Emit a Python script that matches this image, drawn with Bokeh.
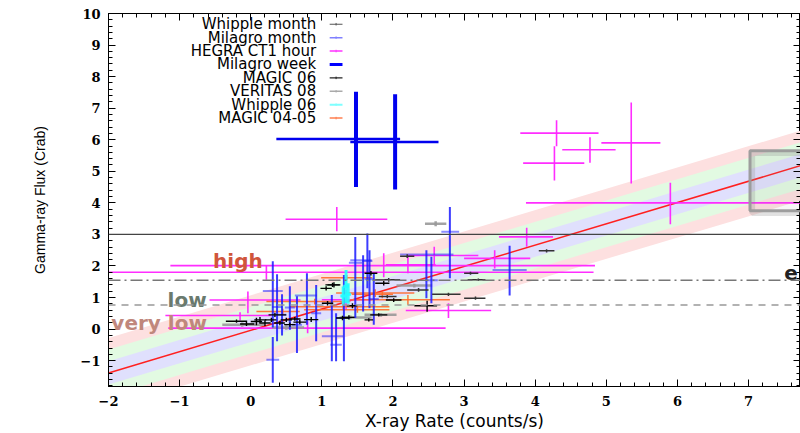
from bokeh.plotting import figure
from bokeh.models import Range1d, LinearAxis, SingleIntervalTicker, Span, CustomJSTickFormatter
from bokeh.embed import file_html
from bokeh.resources import INLINE
from bokeh.core.properties import value

# ---------------- data ----------------
# each series: x, x_lo, x_hi, y, y_lo, y_hi
whipple_month_x = [2.20, 3.09, 4.16, 2.78, 3.16, 3.20, 1.94, 2.36, 1.92]
whipple_month_xlo = [2.10, 3.00, 4.05, 2.55, 3.00, 3.05, 1.75, 2.20, 1.80]
whipple_month_xhi = [2.30, 3.20, 4.27, 2.95, 3.30, 3.30, 2.10, 2.50, 2.05]
whipple_month_y = [2.31, 1.77, 2.48, 1.10, 0.98, 1.56, 1.56, 1.24, 1.03]
whipple_month_ylo = [2.25, 1.72, 2.43, 1.05, 0.93, 1.52, 1.50, 1.18, 0.98]
whipple_month_yhi = [2.37, 1.82, 2.53, 1.15, 1.03, 1.60, 1.62, 1.30, 1.08]

milagro_month_x = [0.31, 0.31, 0.37, 0.55, 0.65, 0.79, 0.92, 1.14, 1.31, 1.47, 1.58, 1.64, 1.67, 1.73, 2.47, 2.54, 2.80, 3.64, 1.20, 0.44]
milagro_month_xlo = [0.17, 0.22, 0.30, 0.48, 0.58, 0.62, 0.85, 1.00, 1.20, 1.38, 1.40, 1.57, 1.60, 1.66, 2.10, 2.45, 2.68, 3.40, 1.12, 0.38]
milagro_month_xhi = [0.45, 0.40, 0.44, 0.62, 0.72, 0.93, 0.99, 1.30, 1.40, 1.57, 1.70, 1.71, 1.74, 1.80, 2.85, 2.63, 2.93, 3.88, 1.28, 0.50]
milagro_month_y = [1.21, -0.97, 0.70, 0.68, 0.14, 1.06, 0.50, -0.23, 0.35, 2.10, 2.18, 2.16, 1.58, 0.95, 2.36, 1.55, 3.08, 1.87, -0.50, 0.45]
milagro_month_ylo = [0.05, -1.70, -0.39, -0.02, -0.76, 0.14, -0.39, -1.02, -1.02, 0.35, 0.56, 1.29, 0.66, 0.14, 0.98, 0.82, 1.61, 1.06, -1.02, -0.20]
milagro_month_yhi = [2.15, -0.25, 1.74, 1.36, 1.04, 1.77, 1.40, 1.08, 1.71, 2.92, 2.34, 3.03, 2.50, 1.77, 2.50, 2.29, 3.87, 2.64, 0.50, 1.10]

hegra_x = [4.30, 4.27, 4.77, 5.35, 5.90, 3.88, 3.43, 1.21, 1.87, 0.22, 2.21, 2.58, 2.78, 0.80, -0.04, -0.15, 1.34]
hegra_xlo = [3.79, 3.83, 4.38, 4.93, 3.87, 3.49, 3.00, 0.49, -1.13, -2.50, 1.90, 2.20, 2.18, -1.16, -0.58, -1.20, 1.00]
hegra_xhi = [4.89, 4.69, 5.13, 5.76, 8.00, 4.25, 3.93, 1.92, 4.84, 4.82, 2.60, 3.20, 3.38, 2.74, 0.70, 0.29, 1.70]
hegra_y = [6.21, 5.26, 5.68, 5.90, 4.00, 2.92, 2.24, 3.48, 2.01, 1.80, 2.04, 2.33, 0.59, 0.03, 0.92, 0.43, 0.93]
hegra_ylo = [5.79, 4.71, 5.27, 4.61, 3.32, 2.61, 1.92, 3.10, 1.64, 1.56, 1.77, 2.05, 0.35, -0.13, 0.50, 0.27, 0.61]
hegra_yhi = [6.62, 5.79, 6.08, 7.18, 4.64, 3.21, 2.50, 3.87, 2.40, 2.02, 2.31, 2.61, 0.82, 0.25, 1.19, 0.53, 1.24]

milagro_week_x = [1.48, 2.03]
milagro_week_xlo = [0.36, 1.40]
milagro_week_xhi = [2.10, 2.64]
milagro_week_y = [6.02, 5.93]
milagro_week_ylo = [4.50, 4.42]
milagro_week_yhi = [7.52, 7.44]

magic06_x = [2.48, 1.87, 2.01, 1.69, 1.66, 1.38, 1.43, 1.17, -0.06, 0.08, 0.13, 0.20, 0.29, 0.34, 0.41, 0.50, 0.55, 0.62, 0.69, 1.15, 1.06, 1.08, 1.29, 1.80, -0.20, 0.85]
magic06_xlo = [2.30, 1.75, 1.90, 1.60, 1.60, 1.30, 1.35, 1.08, -0.15, 0.00, 0.05, 0.12, 0.20, 0.25, 0.33, 0.42, 0.47, 0.54, 0.60, 1.05, 0.98, 1.00, 1.20, 1.68, -0.35, 0.75]
magic06_xhi = [2.62, 1.95, 2.12, 1.78, 1.72, 1.46, 1.50, 1.26, 0.05, 0.16, 0.22, 0.28, 0.36, 0.50, 0.48, 0.58, 0.63, 0.70, 0.78, 1.25, 1.14, 1.16, 1.38, 1.92, -0.05, 0.95]
magic06_y = [0.74, 1.45, 0.92, 1.77, 0.29, 0.37, 0.74, 1.40, 0.16, 0.24, 0.29, 0.19, 0.29, 0.45, 0.19, 0.29, 0.14, 0.32, 0.22, 1.40, 1.29, 0.82, 0.35, 0.45, 0.25, 0.30]
magic06_ylo = [0.55, 1.38, 0.86, 1.70, 0.24, 0.30, 0.66, 1.32, 0.10, 0.12, 0.20, 0.10, 0.22, 0.38, 0.12, 0.22, 0.07, 0.26, 0.15, 1.33, 1.22, 0.75, 0.28, 0.40, 0.20, 0.22]
magic06_yhi = [0.90, 1.52, 0.98, 1.84, 0.34, 0.44, 0.82, 1.48, 0.22, 0.36, 0.38, 0.28, 0.36, 0.52, 0.26, 0.36, 0.21, 0.38, 0.29, 1.47, 1.36, 0.89, 0.42, 0.50, 0.30, 0.38]

veritas08_x = [2.60, -0.12, 2.30, 1.83, 1.40, 0.50]
veritas08_xlo = [2.45, -0.40, 2.05, 1.60, 1.25, 0.30]
veritas08_xhi = [2.75, 0.19, 2.55, 2.05, 1.70, 0.75]
veritas08_y = [3.34, 0.14, 1.38, 0.45, 0.37, 0.05]
veritas08_ylo = [3.26, 0.07, 1.32, 0.39, 0.31, -0.02]
veritas08_yhi = [3.42, 0.21, 1.44, 0.51, 0.43, 0.12]

whipple06_x = [1.34, 1.37, 1.30]
whipple06_xlo = [1.30, 1.33, 1.26]
whipple06_xhi = [1.38, 1.41, 1.34]
whipple06_y = [1.36, 1.10, 1.05]
whipple06_ylo = [0.82, 0.80, 0.75]
whipple06_yhi = [1.87, 1.45, 1.35]

magic0405_x = [1.35, 1.75, 2.21, 0.90, 1.30, 1.50, 0.45, 1.85]
magic0405_xlo = [0.99, 1.20, 1.40, 0.22, 0.55, 0.75, 0.08, 1.42]
magic0405_xhi = [1.71, 2.30, 2.80, 1.35, 1.95, 1.95, 0.69, 2.00]
magic0405_y = [1.63, 1.14, 0.93, 0.87, 0.71, 0.61, 0.56, 1.10]
magic0405_ylo = [1.55, 1.02, 0.77, 0.78, 0.60, 0.52, 0.48, 0.98]
magic0405_yhi = [1.71, 1.26, 1.08, 0.96, 0.82, 0.70, 0.64, 1.20]

legend_labels = ["Whipple month", "Milagro month", "HEGRA CT1 hour", "Milagro week",
                 "MAGIC 06", "VERITAS 08", "Whipple 06", "MAGIC 04-05"]

# fit line and bands
fit_slope = 0.675
fit_intercept = -0.04
band_halfwidths = [1.11, 0.74, 0.37]
fit_x = [-2.0, 8.0]

# state thresholds (horizontal lines) and labels
level_high = 3.0
level_low = 1.55
level_verylow = 0.76
state_labels = ["high", "low", "very low", "e"]
state_label_x = [-0.53, -1.17, -1.96, 7.50]
state_label_y = [2.17, 0.93, 0.19, 1.79]

# zoom box region
box_x = [7.02, 8.6]
box_y = [3.75, 5.65]

# ---------------- figure ----------------
p = figure(width=800, height=433, output_backend="svg", toolbar_location=None,
           x_range=Range1d(-2, 7.73), y_range=Range1d(-1.82, 10),
           min_border_left=108, min_border_right=0, min_border_top=13, min_border_bottom=44,
           x_axis_label="X-ray Rate (counts/s)", y_axis_label="Gamma-ray Flux (Crab)")
p.xgrid.visible = False
p.ygrid.visible = False
p.outline_line_color = "black"
p.background_fill_color = "white"
p.border_fill_color = "white"

p.xaxis.ticker = SingleIntervalTicker(interval=1, num_minor_ticks=5)
p.yaxis.ticker = SingleIntervalTicker(interval=1, num_minor_ticks=5)
for ax in (p.xaxis[0], p.yaxis[0]):
    ax.major_tick_in = 7
    ax.major_tick_out = 0
    ax.minor_tick_in = 4
    ax.minor_tick_out = 0
    ax.axis_line_color = "black"
    ax.major_label_text_font = "DejaVu Serif"
    ax.major_label_text_font_style = "bold"
    ax.major_label_text_font_size = "13px"
    ax.major_label_text_color = "black"
    ax.axis_label_text_font_style = "normal"
    ax.axis_label_text_color = "black"
p.xaxis[0].major_label_standoff = 9
p.xaxis[0].axis_label_text_font = "DejaVu Sans"
p.xaxis[0].axis_label_text_font_size = "17px"
p.xaxis[0].axis_label_standoff = 2
p.yaxis[0].major_label_standoff = 8
p.yaxis[0].axis_label_text_font = "Liberation Sans"
p.yaxis[0].axis_label_text_font_size = "14px"
p.yaxis[0].axis_label_standoff = 30

for loc in ("above", "right"):
    ax = LinearAxis(ticker=SingleIntervalTicker(interval=1, num_minor_ticks=5),
                    formatter=CustomJSTickFormatter(code="return ''"),
                    major_label_standoff=0, major_tick_in=7, major_tick_out=0,
                    minor_tick_in=4, minor_tick_out=0, axis_line_color="black")
    p.add_layout(ax, loc)

# bands around the fit
fx = fit_x
fy = [fit_intercept + fit_slope * v for v in fx]
band_colors = ["#fde0e0", "#e2fae2", "#e0e0fd"]
for hw, c in zip(band_halfwidths, band_colors):
    p.varea(x=fx, y1=[v - hw for v in fy], y2=[v + hw for v in fy], fill_color=c, fill_alpha=1.0)
p.line(fx, fy, line_color="#ff2020", line_width=1.5)

# state lines
p.add_layout(Span(location=level_high, dimension="width", line_color="#444444", line_width=1.2))
p.add_layout(Span(location=level_low, dimension="width", line_color="#777777", line_width=1.5,
                  line_dash="12 4 2 4"))
p.add_layout(Span(location=level_verylow, dimension="width", line_color="#999999", line_width=1.5,
                  line_dash="7 6"))


def errbars(x, xlo, xhi, y, ylo, yhi, color, width, alpha=1.0, halpha=None, hwidth=None):
    p.segment(x0=xlo, x1=xhi, y0=y, y1=y, line_color=color,
              line_width=width if hwidth is None else hwidth,
              line_alpha=alpha if halpha is None else halpha)
    p.segment(x0=x, x1=x, y0=ylo, y1=yhi, line_color=color, line_width=width, line_alpha=alpha)


errbars(hegra_x, hegra_xlo, hegra_xhi, hegra_y, hegra_ylo, hegra_yhi, "#ff22ff", 1.6, 0.95)
errbars(magic0405_x, magic0405_xlo, magic0405_xhi, magic0405_y, magic0405_ylo, magic0405_yhi, "#ff6a2a", 1.5, 0.9)
errbars(veritas08_x, veritas08_xlo, veritas08_xhi, veritas08_y, veritas08_ylo, veritas08_yhi, "#999999", 2.5, 0.9)
errbars(milagro_month_x, milagro_month_xlo, milagro_month_xhi, milagro_month_y, milagro_month_ylo,
        milagro_month_yhi, "#1a1aff", 2.0, 0.85, 0.5)
errbars(whipple06_x, whipple06_xlo, whipple06_xhi, whipple06_y, whipple06_ylo, whipple06_yhi, "#22ffff", 3.0, 0.9)
errbars(whipple_month_x, whipple_month_xlo, whipple_month_xhi, whipple_month_y, whipple_month_ylo,
        whipple_month_yhi, "#333333", 1.5)
errbars(magic06_x, magic06_xlo, magic06_xhi, magic06_y, magic06_ylo, magic06_yhi, "#000000", 1.4)
errbars(milagro_week_x, milagro_week_xlo, milagro_week_xhi, milagro_week_y, milagro_week_ylo,
        milagro_week_yhi, "#0000ee", 4.0, hwidth=2.5)

# state labels
state_colors = ["#d0553c", "#6a7a6e", "#c0877c", "#222222"]
p.text(x=state_label_x, y=state_label_y, text=state_labels, text_color=state_colors,
       text_font=value("DejaVu Sans"), text_font_style="bold", text_font_size="20px",
       text_baseline="alphabetic", text_align="left")

# zoom box (with a soft shadow)
p.quad(left=[box_x[0] + 0.03], right=[box_x[1] + 0.03], bottom=[box_y[0] - 0.07], top=[box_y[1] - 0.07],
       fill_alpha=0, line_color="#888888", line_alpha=0.25, line_width=6)
p.quad(left=[box_x[0]], right=[box_x[1]], bottom=[box_y[0]], top=[box_y[1]],
       fill_color="#888888", fill_alpha=0.08, line_color="#9a9a9a", line_width=3, line_alpha=0.95)

# legend (label right-aligned, key on the right)
leg_x_text = 0.92
leg_x0, leg_x1 = 1.11, 1.29
leg_y0, leg_dy = 9.66, 0.425
leg_y = [leg_y0 - i * leg_dy for i in range(len(legend_labels))]
leg_colors = ["#555555", "#8080ff", "#ff33ff", "#0000ff", "#222222", "#aaaaaa", "#7fffff", "#ff7f50"]
leg_widths = [1.2, 1.5, 1.5, 3.0, 1.2, 1.5, 2.0, 1.5]
p.text(x=[leg_x_text] * len(legend_labels), y=leg_y, text=legend_labels, text_color="black",
       text_font=value("DejaVu Sans"), text_font_size="15px", text_align="right", text_baseline="middle")
p.segment(x0=[leg_x0] * len(leg_y), x1=[leg_x1] * len(leg_y), y0=leg_y, y1=leg_y,
          line_color=leg_colors, line_width=leg_widths)
xm = (leg_x0 + leg_x1) / 2
p.segment(x0=[xm] * len(leg_y), x1=[xm] * len(leg_y), y0=[v - 0.04 for v in leg_y],
          y1=[v + 0.04 for v in leg_y], line_color=leg_colors, line_width=1)

open("out.html", "w").write(file_html(p, INLINE))
